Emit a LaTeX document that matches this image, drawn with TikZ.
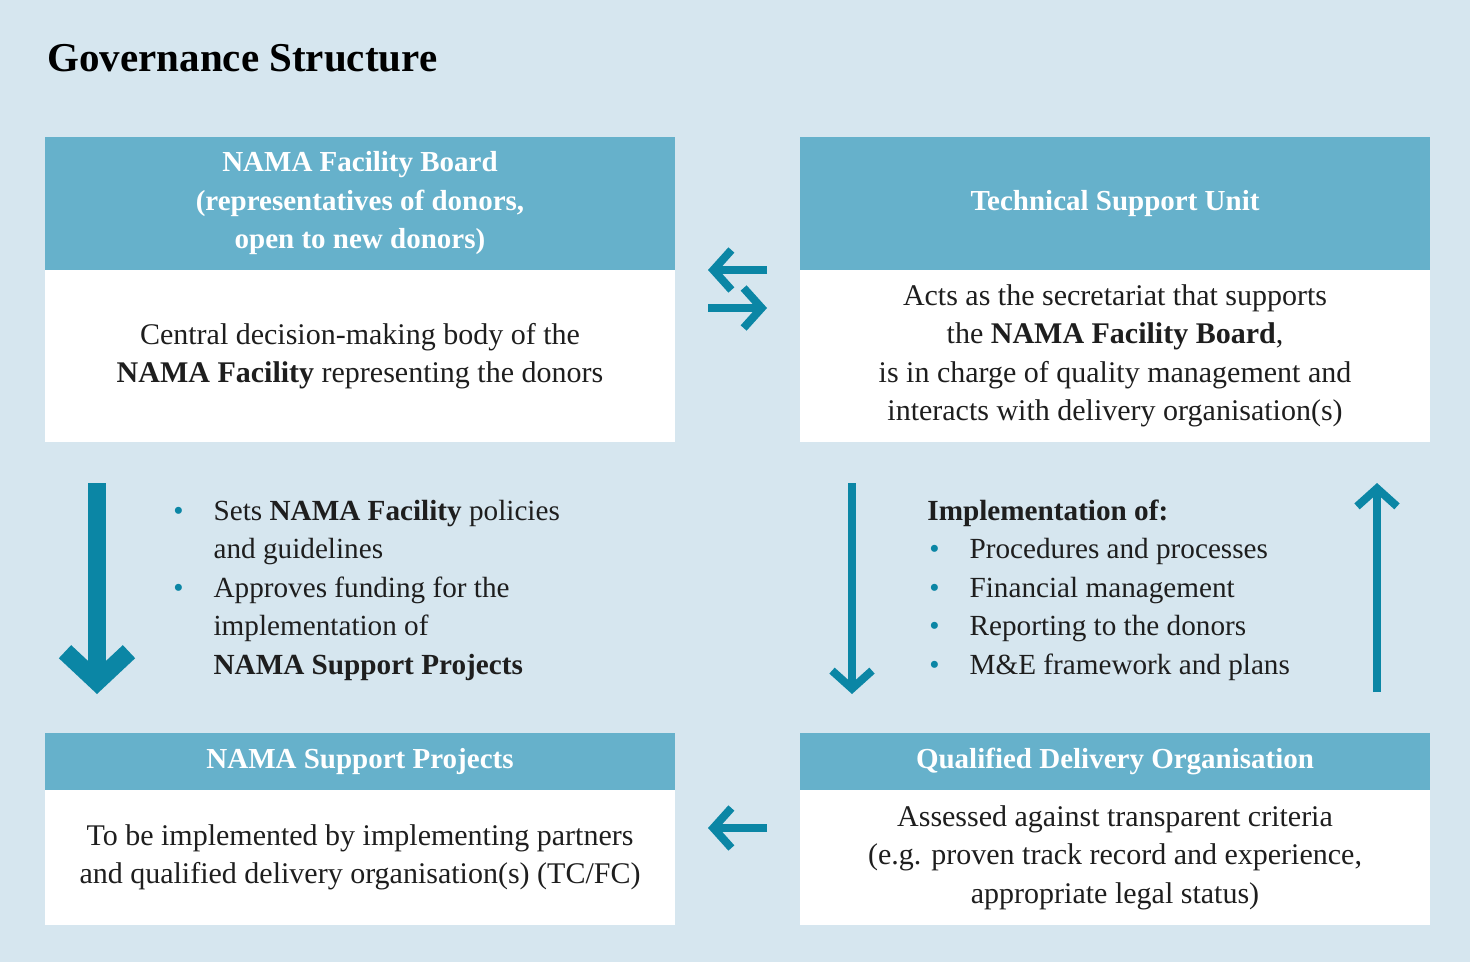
\documentclass[tikz,border=0pt]{standalone}
\usepackage{fontspec}
\setmainfont{Liberation Serif}
\usetikzlibrary{positioning}
\usetikzlibrary{arrows.meta}

\definecolor{bgblue}{HTML}{D6E6EF}
\definecolor{headblue}{HTML}{66B1CB}
\definecolor{arrowblue}{HTML}{0B86A5}
\definecolor{textgray}{HTML}{1E1E1E}
\newcommand{\bul}{{\color{arrowblue}\textbullet}}

\begin{document}
\begin{tikzpicture}[x=0.5pt,y=-0.5pt,node distance=0pt,text=textgray]
        \tikzstyle{head}=[fill=headblue, text=white, minimum width=315pt, inner sep=0pt, outer sep=0pt, align=center, font=\fontsize{14.5}{19.25}\selectfont\bfseries]
        \tikzstyle{body}=[fill=white, minimum width=315pt, inner sep=0pt, outer sep=0pt, align=center, font=\fontsize{15}{19.25}\selectfont]
        \tikzstyle{list}=[inner sep=0pt, anchor=base west, font=\fontsize{14.6}{19.25}\selectfont]
        \tikzstyle{flow}=[draw=arrowblue, line width=4pt, -{Straight Barb[length=9pt,width=20pt]}]
        \tikzstyle{mainflow}=[draw=arrowblue, line width=9pt, -{Straight Barb[length=15pt,width=32pt]}]
        \useasboundingbox (0,0) rectangle (1470,962);
        \fill[bgblue] (0,0) rectangle (1470,962);
        \node[anchor=base west, inner sep=0pt, text=black, font=\fontsize{20.5}{24}\selectfont\bfseries] (title) at (47,72) {Governance Structure};
        % top row
        \node[head, anchor=north west, minimum height=66.5pt] (boardhead) at (45,137) {NAMA Facility Board\\(representatives of donors,\\open to new donors)};
        \node[body, below=of boardhead, minimum height=86pt] (board) {Central decision-making body of the\\\textbf{NAMA Facility} representing the donors};
        \node[head, anchor=north west, minimum height=66.5pt] (tsuhead) at (800,137) {Technical Support Unit};
        \node[body, below=of tsuhead, minimum height=86pt] (tsu) {Acts as the secretariat that supports\\the \textbf{NAMA Facility Board},\\is in charge of quality management and\\interacts with delivery organisation(s)};
        % bottom row
        \node[head, anchor=north west, minimum height=28.5pt] (projhead) at (45,733) {NAMA Support Projects};
        \node[body, below=of projhead, minimum height=67.5pt] (proj) {To be implemented by implementing partners\\and qualified delivery organisation(s) (TC/FC)};
        \node[head, anchor=north west, minimum height=28.5pt] (qdohead) at (800,733) {Qualified Delivery Organisation};
        \node[body, below=of qdohead, minimum height=67.5pt] (qdo) {Assessed against transparent criteria\\(e.g. proven track record and experience,\\appropriate legal status)};
        % lists
        \node[list] (boardlist) at (173,520) {\begin{tabular}[t]{@{}l@{\hspace{15pt}}l@{}}
          \bul & Sets \textbf{NAMA Facility} policies\\
               & and guidelines\\
          \bul & Approves funding for the\\
               & implementation of\\
               & \textbf{NAMA Support Projects}
        \end{tabular}};
        \node[list] (tsulist) at (927,520) {\begin{tabular}[t]{@{\hspace{1pt}}l@{\hspace{15pt}}l@{}}
          \multicolumn{2}{@{}l@{}}{\textbf{Implementation of:}}\\
          \bul & Procedures and processes\\
          \bul & Financial management\\
          \bul & Reporting to the donors\\
          \bul & M\&E framework and plans
        \end{tabular}};
        % arrows
        \coordinate (boardout) at (97,483);
        \coordinate (projin) at (97,694);
        \coordinate (tsuout) at (852,483);
        \coordinate (qdoin) at (852,694);
        \coordinate (qdoout) at (1377,692);
        \coordinate (tsuin) at (1377,483);
        \coordinate (tsufrom) at (767,270);
        \coordinate (boardto) at (708,270);
        \coordinate (boardfrom) at (708,308);
        \coordinate (tsuto) at (767,308);
        \coordinate (qdofrom) at (767,828);
        \coordinate (projto) at (708,828);
        \path [mainflow] (boardout) -- (projin);
        \path [flow] (tsuout) -- (qdoin);
        \path [flow] (qdoout) -- (tsuin);
        \path [flow] (tsufrom) -- (boardto);
        \path [flow] (boardfrom) -- (tsuto);
        \path [flow] (qdofrom) -- (projto);
\end{tikzpicture}
\end{document}
